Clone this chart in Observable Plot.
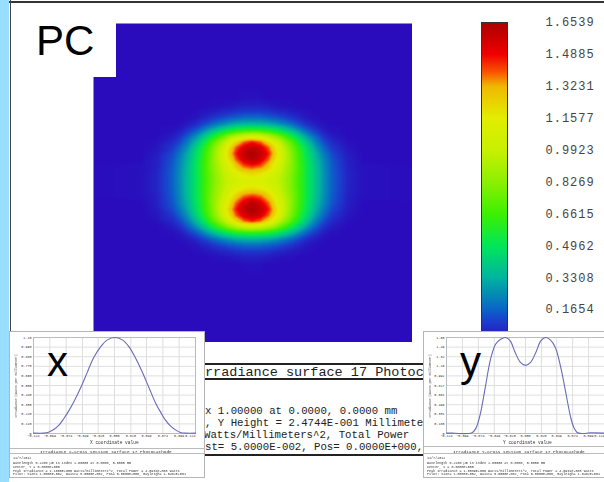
<!DOCTYPE html>
<html><head><meta charset="utf-8">
<script src="https://cdn.jsdelivr.net/npm/d3@7"></script>
<script src="https://cdn.jsdelivr.net/npm/@observablehq/plot@0.6"></script>
<style>
html,body{margin:0;padding:0;background:#fff;overflow:hidden}
#page{position:relative;width:604px;height:482px;overflow:hidden;background:#fff}
.abs{position:absolute}
.abs svg{display:block}
.mono{font-family:"Liberation Mono",monospace;white-space:nowrap;color:#222}
.inset{background:#fff;border:1px solid #b5b5b5;box-sizing:border-box;overflow:hidden}
.big{font-family:"Liberation Sans",Arial,sans-serif;font-size:42px;line-height:42px;color:#000}
.tiny{font-family:"Liberation Mono",monospace;white-space:nowrap;color:#333;filter:blur(.25px)}
.bar text{font-family:"Liberation Mono",monospace;letter-spacing:1px;font-size:12px;fill:#444}
.sec text{font-family:"Liberation Mono",monospace;font-size:3.4px;fill:#333}
</style></head><body><div id="page"></div>
<script>
// Irradiance map: one quadrant (W/mm^2), mm offsets from beam centre
const gridDx = [0,.0062,.0124,.0186,.0248,.0309,.0371,.0433,.0495,.0557,.0618,.0742,.0866,.13];
const gridDy = [0,.0062,.0124,.0170,.0216,.0263,.0309,.0356,.0402,.0448,.0495,.0541,.0587,.0649,.0742,.13];
const gridRows = [
 [1.10,1.09,1.05,.99,.90,.78,.64,.50,.38,.26,.16,.05,.01,0],
 [1.22,1.19,1.12,1.03,.92,.79,.65,.50,.38,.26,.16,.05,.01,0],
 [1.47,1.42,1.28,1.10,.95,.81,.65,.50,.37,.25,.15,.04,.01,0],
 [1.62,1.56,1.40,1.17,.98,.81,.64,.49,.35,.24,.14,.04,0,0],
 [1.65,1.60,1.47,1.22,.99,.80,.63,.47,.33,.21,.12,.03,0,0],
 [1.60,1.55,1.40,1.17,.95,.77,.59,.43,.28,.17,.09,.02,0,0],
 [1.45,1.38,1.22,1.03,.85,.69,.51,.35,.22,.12,.06,.01,0,0],
 [1.02,.98,.90,.79,.66,.52,.38,.25,.15,.07,.03,0,0,0],
 [.60,.59,.56,.50,.42,.33,.23,.14,.08,.03,.01,0,0,0],
 [.34,.33,.31,.27,.22,.17,.11,.06,.03,.01,0,0,0,0],
 [.18,.18,.16,.14,.11,.08,.05,.02,.01,0,0,0,0,0],
 [.09,.09,.08,.06,.05,.03,.02,.01,0,0,0,0,0,0],
 [.04,.04,.03,.02,.01,.01,0,0,0,0,0,0,0,0],
 [.01,.01,0,0,0,0,0,0,0,0,0,0,0,0],
 [0,0,0,0,0,0,0,0,0,0,0,0,0,0],
 [0,0,0,0,0,0,0,0,0,0,0,0,0,0]
];
// Colour legend
const barTicks = [1.6539,1.4885,1.3231,1.1577,0.9923,0.8269,0.6615,0.4962,0.3308,0.1654];
const colorStops = [0,.10,.1654,.3308,.4962,.6615,.8269,.9923,1.1577,1.3231,1.40,1.4885,1.6539];
const colorRange = ["#2a0cbc","#1c3ccc","#0a64c8","#00b4a0","#00e65a","#3cf000","#8cf000","#c8f000","#e2ee00","#f0b800","#fa5000","#f00000","#aa0000"];
// X cross section
const xsecX = [-.124,-.108,-.101,-.093,-.085,-.078,-.070,-.062,-.052,-.042,-.032,-.021,-.011,0,.012,.022,.032,.042,.053,.063,.071,.078,.086,.094,.101,.109,.124];
const xsecV = [.004,.004,.015,.046,.096,.166,.259,.367,.521,.695,.868,.996,1.073,1.10,1.073,.996,.868,.714,.521,.347,.239,.154,.085,.039,.012,.004,.004];
const xsecYTicks = [0,.11,.22,.33,.44,.55,.66,.77,.88,.99,1.10];
// Y cross section
const ysecX = [-.124,-.115,-.105,-.092,-.084,-.078,-.071,-.063,-.055,-.047,-.039,-.031,-.024,-.016,-.008,0,.008,.016,.024,.031,.039,.047,.055,.063,.071,.076,.081,.089,.102,.124];
const ysecV = [.006,.006,0,0,.012,.088,.334,.804,1.273,1.537,1.625,1.654,1.595,1.390,1.226,1.173,1.226,1.390,1.595,1.654,1.613,1.478,1.155,.716,.275,.100,.018,0,.012,.006];
const ysecYTicks = [0,.1654,.3308,.4962,.6615,.8269,.9923,1.1577,1.3231,1.4885,1.6539];
const secXTicks = [-.124,-.099,-.074,-.049,-.025,0,.025,.049,.074,.099];
const secXLast = [.124];
// Text
const mainTitle = "rradiance surface 17 Photoc";
const mainLines = ["x 1.00000 at 0.0000, 0.0000 mm",", Y Height = 2.4744E-001 Millimete"," Watts/Millimeters^2, Total Power","st= 5.0000E-002, Pos= 0.0000E+000,"];
const xFooter = ["11/7/2012","Wavelength 0.2200 µm in index 1.00000 at 0.0000, 0.0000 mm","Center, Y = 0.0000E+000","Peak Irradiance = 1.1000E+000 Watts/Millimeters^2, Total Power = 4.0961E-003 Watts","Pilot: Size= 1.0000E-002, Waist= 5.0000E-002, Pos= 0.0000E+000, Rayleigh= 1.0482E+001"];
const yFooter = ["11/7/2012","Wavelength 0.2200 µm in index 1.00000 at 0.0000, 0.0000 mm","Center, X = 0.0000E+000","Peak Irradiance = 1.6539E+000 Watts/Millimeters^2, Total Power = 4.0961E-003 Watts","Pilot: Size= 1.0000E-002, Waist= 5.0000E-002, Pos= 0.0000E+000, Rayleigh= 1.0482E+001"];

const page = document.getElementById("page");
function place(parent,node,l,t){const d=document.createElement("div");d.className="abs";d.style.left=l+"px";d.style.top=t+"px";d.appendChild(node);parent.appendChild(d);return d;}
function label(parent,txt,l,t,cls,extra){const d=document.createElement("div");d.className="abs "+cls;d.style.left=l+"px";d.style.top=t+"px";d.textContent=txt;Object.assign(d.style,extra||{});parent.appendChild(d);return d;}
function box(parent,l,t,w,h,color){const d=document.createElement("div");d.className="abs";Object.assign(d.style,{left:l+"px",top:t+"px",width:w+"px",height:h+"px",background:color});parent.appendChild(d);return d;}

// frame and strip
box(page,0,0,9,482,"#99ddff");
box(page,9,1,595,1.5,"#333");
box(page,10,0,1,340,"#444");

// heat map
const pts=[];
gridDy.forEach((dy,r)=>gridDx.forEach((dx,c)=>{
  for(const sx of dx===0?[1]:[-1,1]) for(const sy of dy===0?[1]:[-1,1])
    pts.push({x:sx*dx,y:sy*dy,v:gridRows[r][c]});
}));
const colorScale={type:"linear",domain:colorStops,range:colorRange,interpolate:"rgb",clamp:true};
place(page,Plot.plot({width:319,height:319,margin:0,
  x:{domain:[-.1231,.1243],axis:null},y:{domain:[-.1249,.1225],axis:null},color:colorScale,
  marks:[Plot.raster(pts,{x:"x",y:"y",fill:"v",interpolate:"barycentric",pixelSize:1,imageRendering:"auto"})]
}),93,23);
box(page,93,23,23,54,"#fff");
label(page,"PC",36,20,"big");

// colour bar
place(page,Plot.plot({className:"bar",width:134,height:345,marginLeft:11,marginRight:97,marginTop:22,marginBottom:4,
  style:{background:"transparent"},
  x:{domain:[0,1],axis:null},y:{domain:[0,1.6539]},color:colorScale,
  marks:[
    Plot.raster({x1:0,x2:1,y1:0,y2:1.6539,fill:(x,y)=>y,pixelSize:1}),
    Plot.frame({stroke:"#333"}),
    Plot.axisY(barTicks,{anchor:"right",tickSize:0,tickPadding:38,tickFormat:d3.format(".4f"),label:null})
  ]
}),470,0);

// centre text block
box(page,205,363,219,1.5,"#222");
box(page,205,378,219,1.5,"#222");
box(page,205,454,219,1.5,"#222");
label(page,mainTitle,205,365,"mono",{fontSize:"13.5px",lineHeight:"15px"});
label(page,mainLines[0],205,405,"mono",{fontSize:"10.7px",lineHeight:"12px"});
label(page,mainLines[1],205,417,"mono",{fontSize:"10.7px",lineHeight:"12px"});
label(page,mainLines[2],204,429,"mono",{fontSize:"10.7px",lineHeight:"12px"});
label(page,mainLines[3],205,441,"mono",{fontSize:"10.7px",lineHeight:"12px"});

function section(opts){
  const d=box(page,opts.left,331,opts.width,147,"#fff");d.className="abs inset";
  const data=opts.xs.map((x,i)=>({x,v:opts.vs[i]}));
  const fmtY=d=>d>=1?d.toFixed(2):d===0?"0":d.toFixed(3);
  const svg=Plot.plot({className:"sec",width:opts.plotW,height:107,marginLeft:opts.ml,marginRight:opts.mr,marginTop:5,marginBottom:6,
    style:{background:"transparent",overflow:"visible"},
    x:{domain:[-.124,.124]},y:{domain:[0,opts.top]},
    marks:[
      Plot.gridX(secXTicks,{stroke:"#dedede",strokeOpacity:1}),
      Plot.gridY(opts.yTicks,{stroke:"#dedede",strokeOpacity:1}),
      Plot.frame({stroke:"#bbb"}),
      Plot.axisX(secXTicks,{tickSize:0,tickPadding:1.5,label:null,tickFormat:d3.format(".3f")}),
      Plot.axisX(secXLast,{tickSize:0,tickPadding:1.5,label:null,tickFormat:d3.format(".3f"),textAnchor:"end"}),
      Plot.axisY(opts.yTicks,{tickSize:0,tickPadding:2,label:null,tickFormat:fmtY}),
      Plot.line(data,{x:"x",y:"v",stroke:"#6a6ab8",strokeWidth:1.1,curve:"catmull-rom"})
    ]});
  place(d,svg,0,0);
  label(d,opts.axisLabel,opts.axisLeft,108,"tiny",{fontSize:"4.5px",lineHeight:"5px"});
  label(d,"Irradiance (Watts per Millimeter)",6,54,"tiny",{fontSize:"3.2px",lineHeight:"4px",transform:"translate(-50%,-50%) rotate(-90deg)"});
  box(d,0,opts.r1,opts.width,1,"#bbb");
  box(d,0,121,opts.width,1,"#bbb");
  label(d,opts.title,opts.titleLeft,116.5,"tiny",{fontSize:"4.4px",lineHeight:"5px"});
  const rows=[126,130.5,134.5,138.5,142];
  opts.footer.forEach((t,i)=>label(d,t,3,rows[i]-2,"tiny",{fontSize:"3.4px",lineHeight:"4px"}));
  return d;
}
const xInset=section({left:9,width:196,plotW:194,ml:23,mr:9,top:1.10,xs:xsecX,vs:xsecV,yTicks:xsecYTicks,axisLeft:80,titleLeft:30,
  axisLabel:"X coordinate value",title:"Irradiance X-Cross section surface 17 Photocathode",footer:xFooter,r1:116});
label(xInset,"x",37,9,"big");
const yInset=section({left:423,width:190,plotW:188,ml:22,mr:8,top:1.6539,xs:ysecX,vs:ysecV,yTicks:ysecYTicks,axisLeft:79,titleLeft:29,
  axisLabel:"Y coordinate value",title:"Irradiance Y-Cross section surface 17 Photocathode",footer:yFooter,r1:114});
label(yInset,"y",36,9,"big");
</script></body></html>
